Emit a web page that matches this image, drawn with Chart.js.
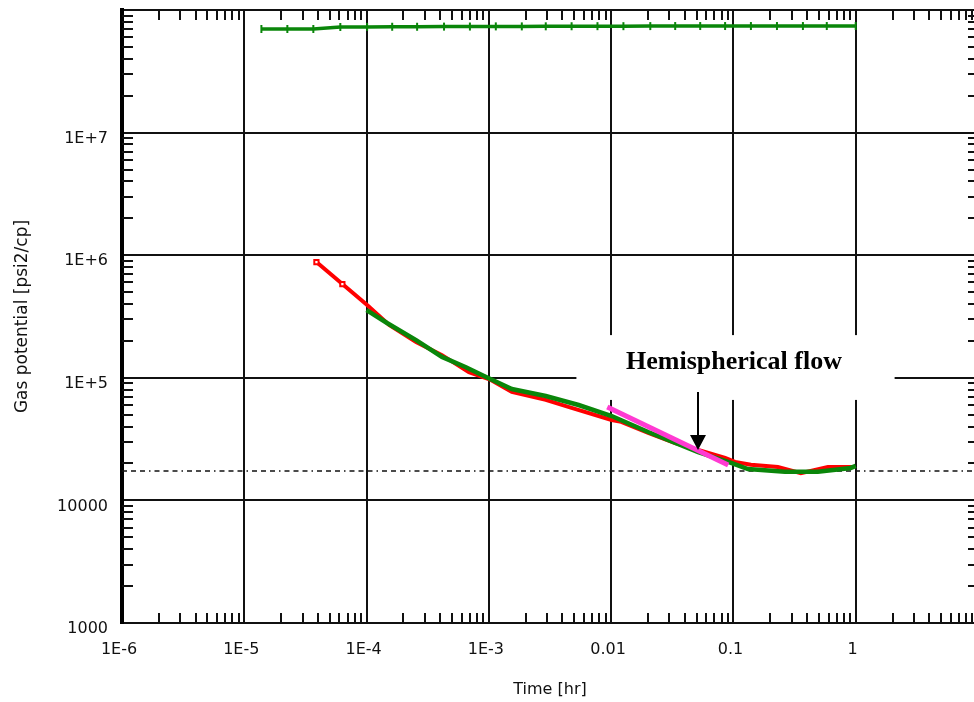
<!DOCTYPE html>
<html>
<head>
<meta charset="utf-8">
<script src="https://cdn.jsdelivr.net/npm/chart.js@4/dist/chart.umd.min.js"></script>
<style>
  html, body { margin: 0; padding: 0; background: #fff; overflow: hidden; }
  #wrap { width: 974px; height: 702px; overflow: hidden; }
</style>
</head>
<body>
<div id="wrap"><canvas id="chart" width="984" height="702"></canvas></div>
<script>
// ===== DATA =====

// upper green curve (initial potential, flat)
const TIME_TOP = [1.38e-5, 2.25e-5, 3.67e-5, 6.1e-5, 1.01e-4, 1.62e-4, 2.59e-4, 4.3e-4, 7.0e-4, 1.14e-3,
  1.86e-3, 2.92e-3, 4.75e-3, 7.73e-3, 0.0126, 0.0209, 0.0334, 0.0535, 0.0855, 0.139, 0.227, 0.370, 0.580, 1.0];
const POT_TOP = [7.0e7, 7.0e7, 7.0e7, 7.27e7, 7.28e7, 7.3e7, 7.3e7, 7.32e7, 7.33e7, 7.35e7,
  7.35e7, 7.36e7, 7.37e7, 7.38e7, 7.38e7, 7.39e7, 7.4e7, 7.4e7, 7.4e7, 7.4e7, 7.4e7, 7.4e7, 7.4e7, 7.4e7];

// red curve (measured)
const TIME_RED = [3.89e-5, 6.34e-5, 1.01e-4, 1.53e-4, 2.54e-4, 4.14e-4, 6.87e-4, 1.04e-3, 1.54e-3, 2.92e-3,
  4.75e-3, 0.0101, 0.0121, 0.0201, 0.0334, 0.0515, 0.0855, 0.103, 0.139, 0.231, 0.356, 0.592, 0.944];
const POT_RED = [8.8e5, 5.82e5, 3.93e5, 2.70e5, 1.96e5, 1.53e5, 1.11e5, 9.6e4, 7.66e4, 6.6e4,
  5.68e4, 4.53e4, 4.37e4, 3.55e4, 2.94e4, 2.58e4, 2.22e4, 2.06e4, 1.95e4, 1.87e4, 1.67e4, 1.87e4, 1.87e4];

// lower green curve (model)
const TIME_GREEN = [1.0e-4, 1.47e-4, 2.54e-4, 4.14e-4, 6.49e-4, 9.4e-4, 1.54e-3, 2.92e-3, 5.42e-3,
  0.0101, 0.0201, 0.0515, 0.0957, 0.1315, 0.264, 0.49, 0.91, 1.0];
const POT_GREEN = [3.57e5, 2.80e5, 2.03e5, 1.48e5, 1.22e5, 1.02e5, 8.1e4, 7.1e4, 6.0e4,
  4.88e4, 3.61e4, 2.48e4, 2.02e4, 1.80e4, 1.71e4, 1.71e4, 1.84e4, 1.91e4];

// hemispherical flow straight line
const HEMI_TIME = [0.0093, 0.0906];
const HEMI_POT = [57800, 19450];

// dash-dot reference level
const REF_TIME = [1e-6, 10];
const REF_POT = 17400;

// axes
const X_TICKS = [1e-6, 1e-5, 1e-4, 1e-3, 0.01, 0.1, 1, 10];
const X_LABELS = ['1E-6', '1E-5', '1E-4', '1E-3', '0.01', '0.1', '1', ''];
const Y_TICKS = [1000, 10000, 1e5, 1e6, 1e7, 1e8];
const Y_LABELS = ['1000', '10000', '1E+5', '1E+6', '1E+7', ''];

// annotation
const NOTE_TEXT = 'Hemispherical flow';
const NOTE_TIME = 0.101, NOTE_POT = 1.35e5;
const NOTE_BOX_TIME = [5.2e-3, 2.08], NOTE_BOX_POT = [6.6e4, 2.23e5];
const ARROW_TIME = 0.0515, ARROW_FROM = 7.66e4, ARROW_TO = 2.58e4;

const pts = (xs, ys) => xs.map((x, i) => ({ x, y: Array.isArray(ys) ? ys[i] : ys }));

// inner minor ticks on all four sides + annotation
const minorTicks = {
  id: 'minorTicks',
  beforeDatasetsDraw(chart) {
    const { ctx, chartArea: a, scales: { x, y } } = chart;
    ctx.save();
    ctx.strokeStyle = '#111';
    ctx.lineWidth = 2;
    ctx.beginPath();
    for (let k = 0; k < X_TICKS.length - 1; k++) {
      for (let m = 2; m <= 9; m++) {
        const px = Math.round(x.getPixelForValue(X_TICKS[k] * m));
        ctx.moveTo(px, a.bottom); ctx.lineTo(px, a.bottom - 10);
        ctx.moveTo(px, a.top); ctx.lineTo(px, a.top + 10);
      }
    }
    for (let k = 0; k < Y_TICKS.length - 1; k++) {
      for (let m = 2; m <= 9; m++) {
        const py = Math.round(y.getPixelForValue(Y_TICKS[k] * m));
        ctx.moveTo(a.left, py); ctx.lineTo(a.left + 11, py);
        ctx.moveTo(a.right, py); ctx.lineTo(a.right - 10, py);
      }
    }
    ctx.stroke();

    // white box behind the annotation text
    const bx0 = x.getPixelForValue(NOTE_BOX_TIME[0]), bx1 = x.getPixelForValue(NOTE_BOX_TIME[1]);
    const by0 = y.getPixelForValue(NOTE_BOX_POT[1]), by1 = y.getPixelForValue(NOTE_BOX_POT[0]);
    ctx.fillStyle = '#fff';
    ctx.fillRect(bx0, by0, bx1 - bx0, by1 - by0);
    ctx.restore();
  },
  afterDatasetsDraw(chart) {
    const { ctx, scales: { x, y } } = chart;
    ctx.save();
    ctx.fillStyle = '#000';
    ctx.font = 'bold 26px "Liberation Serif", "Times New Roman", serif';
    ctx.textAlign = 'center';
    ctx.textBaseline = 'middle';
    ctx.fillText(NOTE_TEXT, x.getPixelForValue(NOTE_TIME), y.getPixelForValue(NOTE_POT));

    const ax = Math.round(x.getPixelForValue(ARROW_TIME));
    const y0 = y.getPixelForValue(ARROW_FROM), y1 = y.getPixelForValue(ARROW_TO);
    ctx.strokeStyle = '#000';
    ctx.lineWidth = 2;
    ctx.beginPath();
    ctx.moveTo(ax, y0); ctx.lineTo(ax, y1 - 12);
    ctx.stroke();
    ctx.beginPath();
    ctx.moveTo(ax, y1); ctx.lineTo(ax - 8, y1 - 15); ctx.lineTo(ax + 8, y1 - 15);
    ctx.closePath();
    ctx.fill();
    ctx.restore();
  }
};

const tickFont = { family: '"DejaVu Sans", sans-serif', size: 16 };

new Chart(document.getElementById('chart'), {
  type: 'line',
  data: {
    datasets: [
      { data: pts(HEMI_TIME, HEMI_POT), borderColor: '#ff3ad2', borderWidth: 5, pointRadius: 0 },
      { data: pts(TIME_GREEN, POT_GREEN), borderColor: '#0a860a', borderWidth: 4.5, pointRadius: 0 },
      { data: pts(TIME_RED, POT_RED), borderColor: '#ff0000', borderWidth: 4,
        pointRadius: TIME_RED.map((_, i) => i < 2 ? 3 : 0), pointStyle: 'rect',
        pointBackgroundColor: '#fff', pointBorderColor: '#ff0000', pointBorderWidth: 2 },
      { data: pts(TIME_TOP, POT_TOP), borderColor: '#0a860a', borderWidth: 3.5,
        pointStyle: 'line', pointRotation: 90, pointRadius: 4, pointBorderWidth: 2,
        pointBorderColor: '#0a860a' },
      { data: pts(REF_TIME, REF_POT), borderColor: '#111', borderWidth: 1.5,
        borderDash: [5, 4, 5, 4, 5, 4, 1.5, 4], pointRadius: 0 }
    ]
  },
  options: {
    responsive: false,
    animation: false,
    devicePixelRatio: 1,
    layout: { padding: { top: 10, right: 3, left: 0, bottom: 0 } },
    plugins: { legend: { display: false }, tooltip: { enabled: false } },
    elements: { line: { tension: 0 } },
    scales: {
      x: {
        type: 'logarithmic', min: 1e-6, max: 10,
        afterBuildTicks: s => { s.ticks = X_TICKS.map(v => ({ value: v })); },
        afterFit: s => { s.height = 79; s.paddingLeft = 0; s.paddingRight = 0; },
        ticks: { callback: (v, i) => X_LABELS[i], autoSkip: false, maxRotation: 0,
          padding: 17, labelOffset: -3, color: '#111', font: tickFont },
        grid: { color: '#111', lineWidth: 2, drawTicks: false },
        border: { color: '#111', width: 2 },
        title: { display: true, text: 'Time [hr]', color: '#111', font: tickFont,
          padding: { top: 0, bottom: 3 } }
      },
      y: {
        type: 'logarithmic', min: 1000, max: 1e8,
        afterBuildTicks: s => { s.ticks = Y_TICKS.map(v => ({ value: v })); },
        afterFit: s => { s.width = 122; s.paddingTop = 0; s.paddingBottom = 0; },
        ticks: { callback: (v, i) => Y_LABELS[i], autoSkip: false,
          padding: 14, labelOffset: 6, color: '#111', font: tickFont },
        grid: { color: '#111', lineWidth: 2, drawTicks: false },
        border: { color: '#000', width: 4 },
        title: { display: true, text: 'Gas potential [psi2/cp]', color: '#111',
          font: { family: '"DejaVu Sans", sans-serif', size: 17 },
          padding: { top: 12, bottom: 0 } }
      }
    }
  },
  plugins: [minorTicks]
});
</script>
</body>
</html>
